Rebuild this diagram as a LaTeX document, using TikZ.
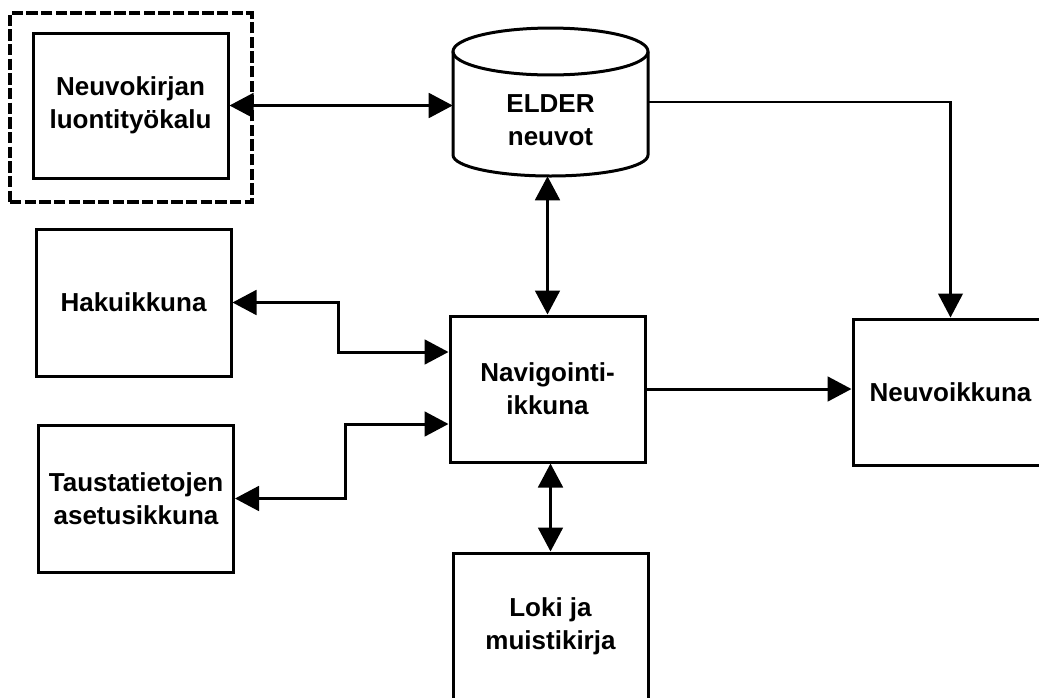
\documentclass[tikz,border=0pt]{standalone}
\usepackage{fontspec}
\setmainfont{Liberation Sans}
\usetikzlibrary{arrows.meta}
\newcommand\boxfont{\fontsize{19.5pt}{24.75pt}\selectfont\bfseries}
\tikzset{
  panel/.style={draw, line width=2.25pt, minimum width=146.25pt, minimum height=109.5pt,
    inner sep=0pt, align=center, font=\boxfont},
  link/.style={line width=2.25pt, -{Triangle[length=18pt,width=18.5pt]}},
  twoway/.style={link, {Triangle[length=18pt,width=18.5pt]}-{Triangle[length=18pt,width=18.5pt]}},
  thinlink/.style={link, line width=1.7pt},
}
\begin{document}
\begin{tikzpicture}[x=0.75pt,y=-0.75pt]
\useasboundingbox (0,0) rectangle (1039,697);
\clip (0,0) rectangle (1039,697);

% tool frame (dashed) and the authoring tool
\node[draw, line width=2.6pt, dash pattern=on 8.5pt off 2.5pt, minimum width=181.5pt,
      minimum height=141.75pt, inner sep=0pt] (frame) at (131,107.5) {};
\node[panel, minimum height=108.75pt] (neuvo) at (130.5,105.5) {Neuvokirjan\\luontityökalu};

% ELDER database drawn as a cylinder
\draw[line width=2.25pt, fill=white]
  (453,51.5) -- (453,155)
  arc[start angle=180, end angle=360, x radius=73.125pt, y radius=15.75pt]
  -- (648,51.5);
\draw[line width=2.25pt] (550.5,51.5) ellipse [x radius=73.125pt, y radius=17.6pt];
\node[minimum width=146.25pt, minimum height=111pt, inner sep=0pt] (elder) at (550.5,102) {};
\node[align=center, font=\boxfont] (elderlabel) at (550.5,120) {ELDER\\neuvot};

% windows
\node[panel, minimum height=110.25pt] (haku) at (133.5,302.5) {Hakuikkuna};
\node[panel] (nav) at (547.5,389) {Navigointi-\\ikkuna};
\node[panel, minimum height=110.25pt] (taus) at (136,498.5) {Taustatietojen\\asetusikkuna};
\node[panel] (neuvoik) at (950.5,392) {Neuvoikkuna};
\node[panel] (loki) at (550.5,626) {Loki ja\\muistikirja};

% connections
\draw[twoway] (neuvo.east) -- (neuvo.east -| elder.west);
\draw[twoway] (nav.north |- elder.south) -- (nav.north);
\draw[thinlink] (elder.east) -| (neuvoik.north);
\draw[twoway] (haku.east) -- ++(106,0) |- ([yshift=27.75pt]nav.west);
\draw[twoway] (taus.east) -- ++(110,0) |- ([yshift=-26.25pt]nav.west);
\draw[link] (nav.east) -- (nav.east -| neuvoik.west);
\draw[twoway] (loki.north |- nav.south) -- (loki.north);
\end{tikzpicture}
\end{document}
